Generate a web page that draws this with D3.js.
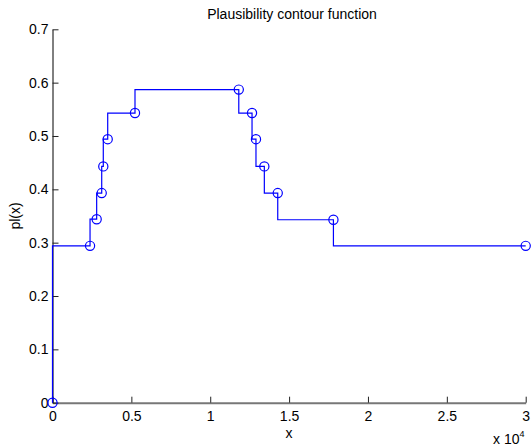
<!DOCTYPE html>
<html>
<head>
<meta charset="utf-8">
<script src="https://cdn.jsdelivr.net/npm/d3@7"></script>
<style>
  body { margin: 0; background: #fff; }
  svg text { font-family: "Liberation Sans", Arial, Helvetica, sans-serif; fill: #000; }
</style>
</head>
<body>
<div id="grafico"></div>
<script>
// valores (x em unidades reais, o eixo mostra x / 10^4)
const xValues = [0, 2380, 2800, 3120, 3220, 3500, 5230, 11810, 12650, 12900, 13430, 14280, 17810, 30000];
const plValues = [0, 0.294, 0.344, 0.393, 0.443, 0.494, 0.543, 0.587, 0.543, 0.494, 0.443, 0.393, 0.343, 0.294];
const xTicks = [0, 5000, 10000, 15000, 20000, 25000, 30000];
const xTickLabels = ["0", "0.5", "1", "1.5", "2", "2.5", "3"];
const yTicks = [0, 0.1, 0.2, 0.3, 0.4, 0.5, 0.6, 0.7];
const yTickLabels = ["0", "0.1", "0.2", "0.3", "0.4", "0.5", "0.6", "0.7"];

const width = 531;
const height = 447;
const margemEsq = 52.5, margemDir = 525.7, margemTopo = 29.3, margemBase = 402.7;

const svg = d3.select("#grafico")
    .append("svg")
    .attr("width", width)
    .attr("height", height);

const xScale = d3.scaleLinear().domain([0, 30000]).range([margemEsq, margemDir]);
const yScale = d3.scaleLinear().domain([0, 0.7]).range([margemBase, margemTopo]);

// eixo x
const gx = svg.append("g")
    .attr("transform", `translate(0,${margemBase})`)
    .call(d3.axisBottom(xScale)
        .tickValues(xTicks)
        .tickFormat((d, i) => xTickLabels[i])
        .tickSizeInner(-6)
        .tickSizeOuter(0)
        .tickPadding(8));
gx.select(".domain").attr("stroke", "#777").attr("stroke-width", 2);
gx.selectAll(".tick line").attr("stroke", "#222");
gx.selectAll("text").attr("font-size", 14).style("font-family", "Liberation Sans, Arial, sans-serif");

// eixo y
const gy = svg.append("g")
    .attr("transform", `translate(${margemEsq},0)`)
    .call(d3.axisLeft(yScale)
        .tickValues(yTicks)
        .tickFormat((d, i) => yTickLabels[i])
        .tickSizeInner(-6)
        .tickSizeOuter(0)
        .tickPadding(4));
gy.select(".domain").attr("stroke", "#000");
gy.selectAll(".tick line").attr("stroke", "#222");
gy.selectAll("text").attr("font-size", 14).style("font-family", "Liberation Sans, Arial, sans-serif");

// linha em escada
const pontos = xValues.map((x, i) => [x, plValues[i]]);
const linha = d3.line()
    .x(d => xScale(d[0]))
    .y(d => yScale(d[1]))
    .curve(d3.curveStepBefore);

svg.append("path")
    .datum(pontos)
    .attr("d", linha)
    .attr("fill", "none")
    .attr("stroke", "#0000ff")
    .attr("stroke-width", 1.2);

svg.selectAll(".ponto")
    .data(pontos)
    .enter().append("circle")
    .attr("class", "ponto")
    .attr("cx", d => xScale(d[0]))
    .attr("cy", d => yScale(d[1]))
    .attr("r", 4.6)
    .attr("fill", "none")
    .attr("stroke", "#0000ff")
    .attr("stroke-width", 1.2);

// textos
svg.append("text")
    .attr("x", 292)
    .attr("y", 18.5)
    .attr("text-anchor", "middle")
    .attr("font-size", 14)
    .text("Plausibility contour function");

svg.append("text")
    .attr("x", 289)
    .attr("y", 437.5)
    .attr("text-anchor", "middle")
    .attr("font-size", 14)
    .text("x");

svg.append("text")
    .attr("transform", `translate(20,216) rotate(-90)`)
    .attr("text-anchor", "middle")
    .attr("font-size", 14)
    .text("pl(x)");

const expo = svg.append("text")
    .attr("x", 493)
    .attr("y", 444)
    .attr("font-size", 14)
    .text("x 10");
expo.append("tspan")
    .attr("dy", -7)
    .attr("font-size", 9)
    .text("4");
</script>
</body>
</html>
